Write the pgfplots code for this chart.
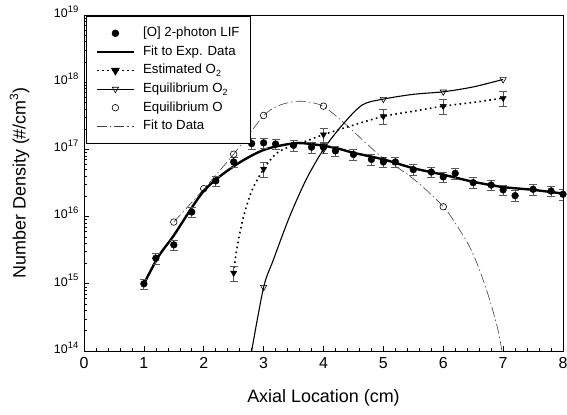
\documentclass[border=0pt]{standalone}
\usepackage{fontspec}
\setmainfont{Liberation Sans}
\usepackage{pgfplots}
\pgfplotsset{compat=1.18}
\newcommand\sups[2][9.5]{\raisebox{0.42em}{\fontsize{#1}{#1}\selectfont #2}}
\newcommand\subs[2][9]{\raisebox{-0.22em}{\fontsize{#1}{#1}\selectfont #2}}
\begin{document}
\begin{tikzpicture}
\begin{axis}[
  name=ax,
  width=479bp, height=336bp, scale only axis,
  ymode=log,
  xmin=0, xmax=8, ymin=1e14, ymax=1e19,
  xtick={0,1,...,8}, minor x tick num=4,
  ytick={1e14,1e15,1e16,1e17,1e18,1e19},
  tick pos=left, tick align=inside,
  major tick length=5bp, minor tick length=3bp,
  axis line style={line width=0.8bp},
  every tick/.style={black, line width=0.6bp},
  /pgf/number format/assume math mode=true,
  log number format basis/.code 2 args={#1\sups{\pgfmathprintnumber{#2}}},
  xticklabel style={font=\fontsize{16}{19}\selectfont, inner sep=0pt, anchor=north, yshift=-6bp},
  yticklabel style={font=\fontsize{12.5}{15}\selectfont, inner sep=0pt, anchor=base east, xshift=-5.5bp, yshift=-2.25bp},
  xlabel={Axial Location (cm)},
  ylabel={Number Density (\#/cm\sups[12]{3})},
  xlabel style={font=\fontsize{18}{21}\selectfont, at={(axis description cs:0.5,-0.14)}, anchor=center},
  ylabel style={font=\fontsize{18}{21}\selectfont, at={(axis description cs:-0.1347,0.5)}, anchor=center, rotate=0},
  legend image code/.code={\draw[mark repeat=2,mark phase=2,#1] plot coordinates {(0bp,0bp) (18.5bp,0bp) (37bp,0bp)};},
  legend cell align=left,
  legend style={at={(axis description cs:0.004,0.997)}, anchor=north west,
    font=\fontsize{13.3}{16}\selectfont, draw=black, line width=0.6bp, inner sep=9.5bp,
    row sep=3.6bp, column sep=7bp,
    nodes={inner sep=1bp, text height=10bp, text depth=3bp}},
]
% Fit to Data (dash-dot)
\addplot[forget plot, smooth, black!75, line width=0.6bp, dash pattern=on 10bp off 3bp on 1.5bp off 3bp] coordinates {
(1.5,8.3e15) (2.0,2.57e16) (2.5,8.5e16) (3.0,3.16e17) (3.25,4.47e17) (3.5,5.13e17) (3.7,5.13e17)
(4.0,4.37e17) (4.4,2.24e17) (4.7,1.26e17) (5.0,7.4e16) (5.4,4.27e16) (5.7,2.57e16) (6.0,1.41e16)
(6.16,9.1e15) (6.43,3.7e15) (6.6,1.66e15) (6.77,6.0e14) (6.91,2.14e14) (6.98,1.0e14)};
% Equilibrium O2 line
\addplot[forget plot, smooth, black, line width=1.1bp] coordinates {
(2.8,1.0e14) (3.0,8.9e14) (3.16,2.24e15) (3.43,9.8e15) (3.71,3.55e16) (4.0,1.0e17) (4.32,2.34e17)
(4.65,4.6e17) (5.0,5.6e17) (5.5,6.6e17) (6.0,7.2e17) (6.5,8.5e17) (7.0,1.1e18)};
% Estimated O2 dotted line
\addplot[forget plot, smooth, black, line width=1.6bp, dash pattern=on 1.6bp off 3.4bp] coordinates {
(2.5,1.45e15) (2.55,3.2e15) (2.65,8.9e15) (2.8,2.4e16) (3.0,5.1e16) (3.2,8.5e16) (3.4,1.07e17)
(3.7,1.32e17) (4.0,1.66e17) (4.5,2.3e17) (5.0,3.1e17) (5.5,3.7e17) (6.0,4.4e17) (6.5,5.0e17) (7.0,5.8e17)};
% Fit to Exp. Data
\addplot[forget plot, smooth, black, line width=2.4bp] coordinates {
(1.0,1.0e15) (1.25,2.6e15) (1.5,5.25e15) (2.0,2.4e16) (2.5,5.6e16) (3.0,9.8e16) (3.5,1.23e17)
(3.8,1.2e17) (4.2,1.05e17) (4.5,8.9e16) (5.0,7.1e16) (5.5,5.25e16) (6.0,4.2e16) (6.5,3.3e16)
(7.0,2.75e16) (7.5,2.5e16) (8.0,2.2e16)};
% Estimated O2 marks with error bars
\addplot[forget plot, only marks, mark=triangle*, mark size=3.6bp, mark options={rotate=180, fill=black},
  error bars/.cd, y dir=both, y explicit relative,
  error bar style={black!65, line width=0.8bp},
  error mark options={rotate=90, mark size=4bp, black!65, line width=0.8bp}] coordinates {
(2.5,1.45e15) +- (0,0.25) (3.0,5.1e16) +- (0,0.25) (4.0,1.66e17) +- (0,0.25)
(5.0,3.1e17) +- (0,0.25) (6.0,4.4e17) +- (0,0.25) (7.0,5.8e17) +- (0,0.25)};
% LIF marks with error bars
\addplot[forget plot, only marks, mark=*, mark size=3.4bp, mark options={fill=black},
  error bars/.cd, y dir=both, y explicit relative,
  error bar style={black!65, line width=0.8bp},
  error mark options={rotate=90, mark size=4bp, black!65, line width=0.8bp}] coordinates {
(1.0,1.0e15) +- (0,0.18) (1.2,2.4e15) +- (0,0.18) (1.5,3.8e15) +- (0,0.18) (1.8,1.17e16) +- (0,0.18)
(2.2,3.4e16) +- (0,0.18) (2.5,6.5e16) +- (0,0.18) (2.8,1.22e17) +- (0,0.18) (3.0,1.25e17) +- (0,0.18)
(3.2,1.2e17) +- (0,0.18) (3.5,1.15e17) +- (0,0.18) (3.8,1.08e17) +- (0,0.18) (4.0,1.08e17) +- (0,0.18)
(4.2,9.5e16) +- (0,0.18) (4.5,8.4e16) +- (0,0.18) (4.8,7.1e16) +- (0,0.18) (5.0,6.5e16) +- (0,0.18)
(5.2,6.5e16) +- (0,0.18) (5.5,5.0e16) +- (0,0.18) (5.8,4.6e16) +- (0,0.18) (6.0,3.9e16) +- (0,0.18)
(6.2,4.4e16) +- (0,0.18) (6.5,3.2e16) +- (0,0.18) (6.8,2.95e16) +- (0,0.18) (7.0,2.5e16) +- (0,0.18)
(7.2,2.05e16) +- (0,0.18) (7.5,2.55e16) +- (0,0.18) (7.8,2.4e16) +- (0,0.18) (8.0,2.15e16) +- (0,0.18)};
% Equilibrium O2 marks
\addplot[forget plot, only marks, mark=triangle, mark size=3.6bp, mark options={rotate=180, fill=white, line width=0.6bp}] coordinates {
(3.0,8.9e14) (4.0,1.0e17) (5.0,5.6e17) (6.0,7.2e17) (7.0,1.1e18)};
% Equilibrium O marks
\addplot[forget plot, only marks, mark=o, mark size=3.3bp, mark options={fill=white, line width=0.6bp}] coordinates {
(1.5,8.3e15) (2.0,2.6e16) (2.5,8.5e16) (3.0,3.2e17) (4.0,4.4e17) (5.0,6.8e16) (6.0,1.4e16)};
% legend
\addlegendimage{only marks, mark=*, mark size=3.4bp, black}
\addlegendentry{[O] 2-photon LIF}
\addlegendimage{black, line width=2.4bp}
\addlegendentry{Fit to Exp. Data}
\addlegendimage{black, line width=1.6bp, dash pattern=on 1.6bp off 3.4bp, mark=triangle*, mark size=3.6bp, mark options={rotate=180, solid, fill=black}}
\addlegendentry{Estimated O\subs{2}}
\addlegendimage{black, line width=1.1bp, mark=triangle, mark size=3.6bp, mark options={rotate=180, fill=white, line width=0.6bp}}
\addlegendentry{Equilibrium O\subs{2}}
\addlegendimage{only marks, mark=o, mark size=3.3bp, black, mark options={line width=0.6bp}}
\addlegendentry{Equilibrium O}
\addlegendimage{black!75, line width=0.6bp, dash pattern=on 10bp off 3bp on 1.5bp off 3bp}
\addlegendentry{Fit to Data}
\end{axis}
\pgfresetboundingbox
\path[use as bounding box] ([shift={(-84bp,-63bp)}]ax.south west) rectangle ([shift={(4bp,15bp)}]ax.north east);
\end{tikzpicture}
\end{document}
